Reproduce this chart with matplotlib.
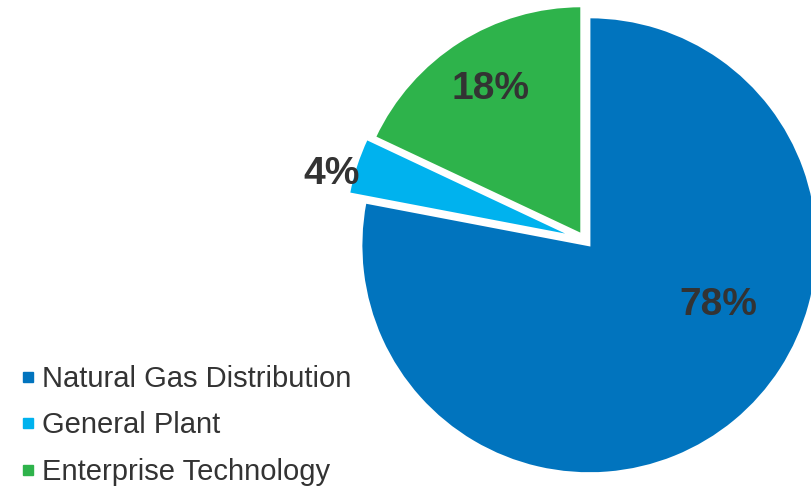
import numpy as np
import matplotlib.pyplot as plt
from matplotlib.lines import Line2D

plt.rcParams['font.family'] = ['Liberation Sans', 'DejaVu Sans']

categories = ["Natural Gas Distribution", "General Plant", "Enterprise Technology"]
shares = [78, 4, 18]
colors = ["#0174BE", "#00B2EE", "#2EB34B"]

W, H = 812, 488
fig = plt.figure(figsize=(W / 100, H / 100), dpi=100)

# pie centre and radius in pixels
cx, cy, rad = 585, 240, 228
lim = 1.1
size = 2 * lim * rad
ax = fig.add_axes([(cx - size / 2) / W, ((H - cy) - size / 2) / H, size / W, size / H])
wedges, _ = ax.pie(shares, colors=colors, startangle=90, counterclock=False,
                   explode=[0.03, 0.055, 0.03],
                   wedgeprops=dict(edgecolor="white", linewidth=1.5))
ax.set_xlim(-lim, lim)
ax.set_ylim(-lim, lim)
ax.set_aspect("equal")
ax.set_axis_off()

# label placement (radius, angle in degrees)
label_pos = [(0.65, -26), (1.15, 165.5), (0.78, 122)]
for v, (r, a) in zip(shares, label_pos):
    t = np.deg2rad(a)
    ax.text(r * np.cos(t), r * np.sin(t), f"{v}%", ha="center", va="center",
            fontsize=28, fontweight="bold", color="#333333")

handles = [Line2D([], [], marker="s", linestyle="none", markersize=7,
                  markerfacecolor=c, markeredgecolor=c) for c in colors]
fig.legend(handles, categories, loc="lower left", bbox_to_anchor=(-0.009, -0.05),
           frameon=False, fontsize=21, labelcolor="#333333", handlelength=0.6,
           handletextpad=0.2, labelspacing=0.64)

fig.savefig("out.png", dpi=100)
